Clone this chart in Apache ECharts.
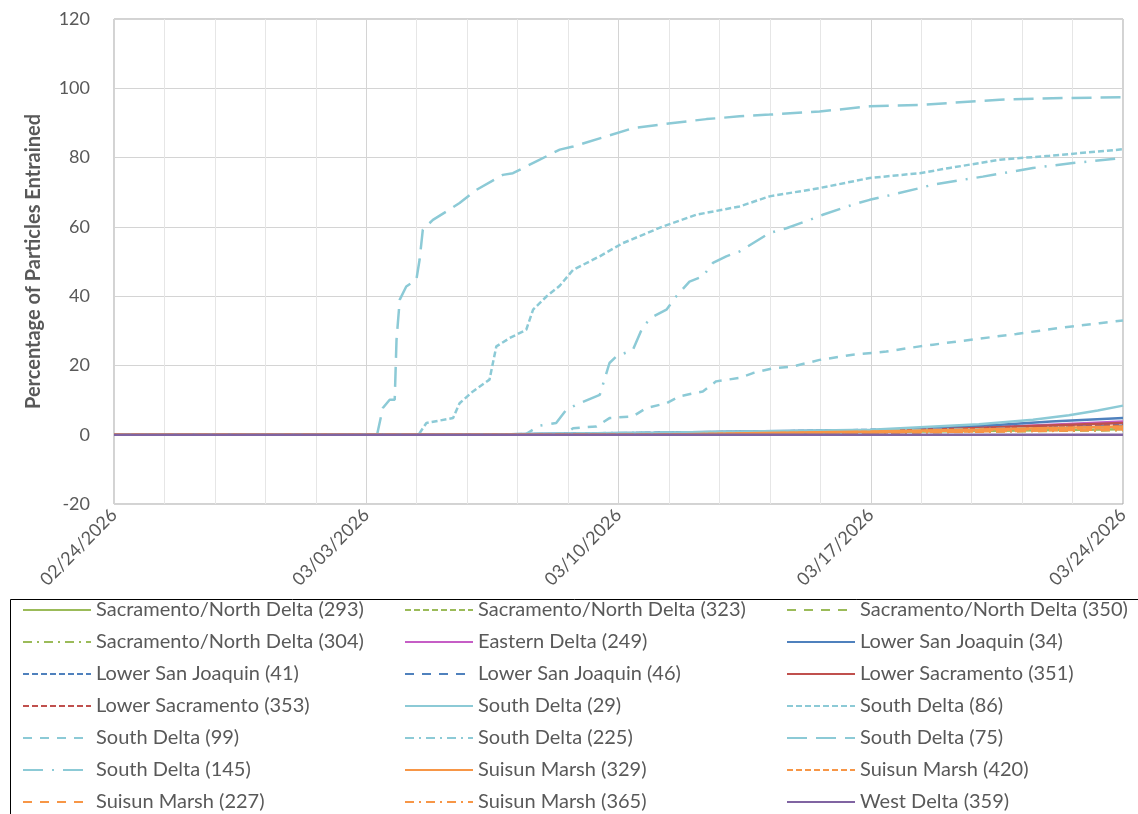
<!DOCTYPE html>
<html>
<head>
<meta charset="utf-8">
<script src="https://cdn.jsdelivr.net/npm/echarts@6/dist/echarts.min.js"></script>
<style>
html,body{margin:0;padding:0;background:#fff;}
#chart{width:1138px;height:814px;}
</style>
</head>
<body>
<div id="chart"></div>
<script>
// ---- Data (x = days after 02/24/2026, y = percentage) ----
const xTickLabels = ['02/24/2026', '03/03/2026', '03/10/2026', '03/17/2026', '03/24/2026'];
const yTickLabels = ['-20', '0', '20', '40', '60', '80', '100', '120'];

const seriesNames = [
  'Sacramento/North Delta (293)', 'Sacramento/North Delta (323)', 'Sacramento/North Delta (350)',
  'Sacramento/North Delta (304)', 'Eastern Delta (249)', 'Lower San Joaquin (34)',
  'Lower San Joaquin (41)', 'Lower San Joaquin (46)', 'Lower Sacramento (351)',
  'Lower Sacramento (353)', 'South Delta (29)', 'South Delta (86)',
  'South Delta (99)', 'South Delta (225)', 'South Delta (75)',
  'South Delta (145)', 'Suisun Marsh (329)', 'Suisun Marsh (420)',
  'Suisun Marsh (227)', 'Suisun Marsh (365)', 'West Delta (359)'
];

const sac293 = [[0,0],[14,0],[18,0.4],[21,0.8],[24,1.1],[28,1.6]];
const sac323 = [[0,0],[13,0],[17,0.5],[21,1.0],[24,1.4],[28,2.0]];
const sac350 = [[0,0],[14,0],[18,0.5],[21,0.9],[25,1.3],[28,1.8]];
const sac304 = [[0,0],[15,0],[19,0.4],[22,0.7],[25,1.0],[28,1.3]];
const east249 = [[0,0],[14,0],[17,0.5],[20,0.9],[22,1.3],[24,2.0],[26,2.9],[28,3.8]];
const lsj34 = [[0,0],[10,0],[12,0.3],[15,0.6],[18,1.0],[21,1.3],[22.5,1.9],[24.6,2.9],[26,3.8],[28,4.8]];
const lsj41 = [[0,0],[11,0],[14,0.4],[18,0.9],[21,1.4],[24,2.1],[28,3.0]];
const lsj46 = [[0,0],[11,0],[14,0.4],[18,0.8],[21,1.2],[24,1.8],[28,2.6]];
const ls351 = [[0,0],[14,0],[18,0.6],[21,1.1],[23,1.6],[25.5,2.5],[28,3.4]];
const ls353 = [[0,0],[14,0],[18,0.5],[21,0.9],[24,1.6],[28,2.5]];
const sd29 = [[0,0],[10,0],[12,0.3],[15,0.6],[18,1.0],[21,1.4],[22.5,2.2],[24,3.0],[25.5,4.3],[26.5,5.6],[27.3,7.0],[28,8.4]];
const sd86 = [[0,0],[8.45,0],[8.48,0.5],[8.67,3.4],[9.41,4.8],[9.59,9.1],[9.96,12.5],[10.42,15.9],[10.61,25.5],[10.98,27.9],[11.44,30.3],[11.63,36.1],[12.0,39.9],[12.37,43.0],[12.74,47.6],[13.48,51.5],[14.12,55.3],[15.23,60.1],[16.16,63.5],[17.36,65.9],[18.19,68.8],[19.58,71.2],[20.97,74.1],[22.36,75.5],[23.19,77.0],[24.58,79.4],[25.96,80.5],[28,82.4]];
const sd99 = [[0,0],[12.5,0],[12.55,0.5],[12.74,1.9],[13.39,2.4],[13.75,4.8],[14.4,5.3],[14.77,7.7],[15.33,9.1],[15.7,11.1],[16.34,12.5],[16.71,15.4],[17.36,16.4],[17.73,17.8],[18.29,19.2],[18.84,19.7],[19.58,21.6],[20.5,23.1],[21.43,24.0],[22.36,25.5],[22.73,26.0],[23.93,27.6],[25.04,29.1],[26.24,30.8],[27.35,32.2],[28,33.0]];
const sd225 = [[0,0],[10,0],[13,0.4],[17,0.8],[21,1.2],[24,1.6],[28,2.2]];
const sd75 = [[0,0],[7.3,0],[7.46,7.7],[7.65,10.1],[7.79,10.1],[7.84,27.4],[7.93,39.0],[8.11,42.8],[8.39,44.7],[8.48,50.5],[8.57,59.2],[8.85,62.0],[9.22,64.4],[9.59,66.9],[10.06,70.7],[10.79,75.0],[11.07,75.5],[11.72,78.9],[12.37,82.3],[12.74,83.2],[13.66,86.1],[14.4,88.5],[15.51,90.0],[16.44,91.1],[17.36,91.9],[18.19,92.4],[19.58,93.3],[20.97,94.8],[22.36,95.2],[24.58,96.7],[26.43,97.2],[28,97.4]];
const sd145 = [[0,0],[11.4,0],[11.44,0.5],[11.81,2.6],[12.27,3.4],[12.55,7.2],[12.92,9.1],[13.48,11.5],[13.75,20.7],[13.94,22.6],[14.4,24.5],[14.68,31.3],[14.96,34.1],[15.33,36.1],[15.6,39.9],[15.97,44.2],[16.34,45.7],[16.62,49.6],[16.99,51.5],[17.36,52.9],[18.19,58.2],[18.66,59.6],[19.3,62.0],[19.67,63.5],[20.5,66.4],[20.97,67.8],[21.61,69.3],[22.36,71.2],[22.73,72.2],[24.11,74.5],[25.5,77.0],[26.61,78.4],[28,79.9]];
const sm329 = [[0,0],[15,0],[18,0.5],[21,0.9],[24,1.5],[28,2.4]];
const sm420 = [[0,0],[15,0],[18,0.4],[21,0.8],[24,1.3],[28,2.0]];
const sm227 = [[0,0],[16,0],[19,0.4],[22,0.7],[25,1.1],[28,1.6]];
const sm365 = [[0,0],[16,0],[19,0.3],[22,0.6],[25,1.0],[28,1.4]];
const wd359 = [[0,0],[28,0]];

const seriesData = [sac293, sac323, sac350, sac304, east249, lsj34, lsj41, lsj46, ls351, ls353,
  sd29, sd86, sd99, sd225, sd75, sd145, sm329, sm420, sm227, sm365, wd359];

// ---- Styles ----
const GREEN = '#9bbb59', MAGENTA = '#c65ec6', BLUE = '#4f81bd', RED = '#c0504d',
      LBLUE = '#8ccad6', ORANGE = '#f79646', PURPLE = '#8064a2';
const SOLID = 'solid', SYSDASH = [6, 3], DASH = [9, 8], LGDASH = [20, 9],
      DASHDOT = [9, 5, 2, 5], LGDASHDOT = [20, 9, 2, 9];
const seriesStyles = [
  [GREEN, SOLID], [GREEN, SYSDASH], [GREEN, DASH], [GREEN, DASHDOT],
  [MAGENTA, SOLID], [BLUE, SOLID], [BLUE, SYSDASH], [BLUE, DASH],
  [RED, SOLID], [RED, SYSDASH], [LBLUE, SOLID], [LBLUE, SYSDASH],
  [LBLUE, DASH], [LBLUE, DASHDOT], [LBLUE, LGDASH], [LBLUE, LGDASHDOT],
  [ORANGE, SOLID], [ORANGE, SYSDASH], [ORANGE, DASH], [ORANGE, DASHDOT],
  [PURPLE, SOLID]
];

const FONT = 'Lato';
const chart = echarts.init(document.getElementById('chart'), null, {renderer: 'canvas'});
chart.setOption({
  animation: false,
  backgroundColor: '#fff',
  textStyle: {fontFamily: FONT},
  grid: {left: 114, right: 15, top: 19, bottom: 310, show: true, borderColor: '#a6a6a6', borderWidth: 1, backgroundColor: 'transparent'},
  xAxis: {
    type: 'value', min: 0, max: 28, interval: 7,
    axisLine: {show: false}, axisTick: {show: false},
    minorTick: {show: false, splitNumber: 5},
    splitLine: {show: true, lineStyle: {color: '#d4d4d4', width: 1}},
    minorSplitLine: {show: true, lineStyle: {color: '#e6e6e6', width: 1}},
    axisLabel: {
      rotate: 45, margin: 8, color: '#595959', fontSize: 18, fontFamily: FONT,
      formatter: v => xTickLabels[Math.round(v / 7)]
    }
  },
  yAxis: {
    type: 'value', min: -20, max: 120, interval: 20,
    name: 'Percentage of Particles Entrained', nameLocation: 'middle', nameGap: 70,
    nameTextStyle: {color: '#595959', fontSize: 20, fontWeight: 'bold', fontFamily: FONT},
    axisLine: {show: false}, axisTick: {show: false},
    splitLine: {show: true, lineStyle: {color: '#d4d4d4', width: 1}},
    axisLabel: {color: '#595959', fontSize: 18, margin: 24, fontFamily: FONT,
      formatter: v => yTickLabels[Math.round((v + 20) / 20)]}
  },
  legend: {
    left: 22, top: 600, width: 1300, padding: 0,
    itemWidth: 68, itemHeight: 14, itemGap: 12,
    itemStyle: {color: 'rgba(0,0,0,0)', borderWidth: 0, opacity: 0},
    textStyle: {color: '#595959', fontSize: 20, fontFamily: FONT, width: 296, lineHeight: 20, overflow: 'none'},
    data: seriesNames
  },
  graphic: [{
    type: 'rect', left: 8, top: 597, silent: true,
    shape: {width: 1140, height: 230},
    style: {fill: 'none', stroke: '#000', lineWidth: 1}
  }],
  series: seriesNames.map((name, i) => ({
    name, type: 'line', data: seriesData[i], symbol: 'none', showSymbol: false,
    color: seriesStyles[i][0],
    lineStyle: {color: seriesStyles[i][0], type: seriesStyles[i][1], width: 2.5},
    emphasis: {disabled: true}
  }))
});
</script>
</body>
</html>
